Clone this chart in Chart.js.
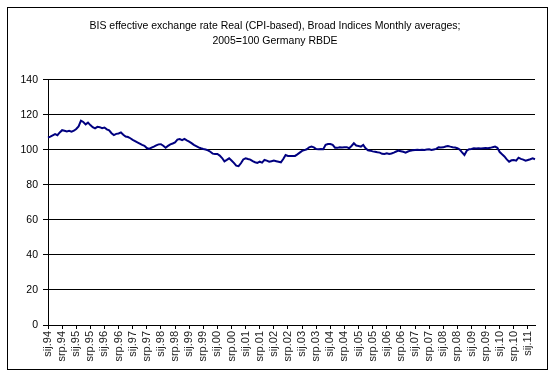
<!DOCTYPE html>
<html>
<head>
<meta charset="utf-8">
<script src="https://cdn.jsdelivr.net/npm/chart.js@4/dist/chart.umd.min.js"></script>
<style>
  html, body { margin: 0; padding: 0; background: #fff; }
  #wrap { width: 552px; height: 376px; position: relative; }
</style>
</head>
<body>
<div id="wrap"><canvas id="c" width="552" height="376"></canvas></div>
<script>
// Month abbreviations (Croatian) and years used for the category labels
const monthNames = ['sij', 'velj', 'ožu', 'tra', 'svi', 'lip', 'srp', 'kol', 'ruj', 'lis', 'stu', 'pro'];
const years = ['94', '95', '96', '97', '98', '99', '00', '01', '02', '03', '04', '05', '06', '07', '08', '09', '10', '11'];
// Months whose label is printed on the axis
const labelledMonths = ['sij', 'srp'];

// Real effective exchange rate, CPI-based, 2005 = 100 (monthly averages)
const rbde = [
  107.0, 107.6, 108.3, 109.0, 108.4, 110.0, 111.3, 111.0, 110.6, 110.9, 110.5, 111.0, // 1994
  112.0, 113.5, 116.7, 116.0, 114.6, 115.6, 114.2, 113.0, 112.3, 113.2, 113.0, 112.4, // 1995
  112.8, 111.8, 111.2, 109.6, 108.5, 109.2, 109.4, 110.0, 108.7, 107.7, 107.4, 106.7, // 1996
  105.8, 105.1, 104.3, 103.6, 102.9, 102.4, 101.1, 100.6, 101.3, 101.9, 102.6, 103.2, // 1997
  103.3, 102.4, 101.3, 102.3, 103.2, 103.7, 104.3, 105.9, 106.2, 105.6, 106.3, 105.5, // 1998
  104.8, 103.9, 102.9, 102.2, 101.5, 101.0, 100.6, 100.3,  99.8,  99.0,  97.9,  97.7, // 1999
   97.7,  96.8,  95.4,  93.5,  94.3,  95.2,  94.0,  92.6,  91.0,  90.7,  92.4,  94.6, // 2000
   95.2,  94.8,  94.5,  93.6,  93.0,  92.6,  93.3,  92.8,  94.3,  93.9,  93.3,  93.6, // 2001
   93.9,  93.6,  93.3,  92.9,  94.8,  97.1,  96.6,  96.5,  96.6,  96.6,  97.5,  98.5, // 2002
   99.5,  99.9, 100.4, 101.5, 101.9, 101.5, 100.5, 100.4, 100.6, 100.4, 102.9, 103.4, // 2003
  103.4, 102.9, 101.3, 101.2, 101.5, 101.4, 101.5, 101.6, 101.0, 102.3, 103.8, 102.5, // 2004
  102.3, 101.9, 102.9, 101.0,  99.8,  99.6,  99.2,  99.0,  98.7,  98.5,  97.8,  97.7, // 2005
   98.1,  97.7,  98.0,  98.5,  99.1,  99.6,  99.3,  99.0,  98.5,  99.1,  99.6,  99.8, // 2006
  100.0, 100.1, 100.0, 100.1, 100.0, 100.3, 100.4, 100.0, 100.3, 100.6, 101.5, 101.4, // 2007
  101.5, 102.0, 102.3, 101.9, 101.6, 101.4, 101.0, 100.2,  98.6,  97.1,  99.6, 100.4, // 2008
  100.6, 101.0, 100.8, 101.0, 100.9, 101.0, 101.1, 101.0, 101.2, 101.6, 101.9, 101.2, // 2009
   98.8,  97.5,  96.3,  94.6,  93.3,  94.1,  94.2,  93.9,  95.6,  94.9,  94.5,  93.9, // 2010
   94.3,  94.7,  95.2,  94.7                                                          // 2011
];

// y-axis range and step
const yMin = 0, yMax = 140, yStep = 20;

const titleLines = [
  'BIS effective exchange rate Real (CPI-based), Broad Indices Monthly averages;',
  '2005=100 Germany RBDE'
];

// One category per month of the series
const categories = [];
years.forEach(y => monthNames.forEach(m => {
  if (categories.length < rbde.length) categories.push(m + '.' + y);
}));

const FONT = "'Liberation Sans', Arial, sans-serif";

// Thin frame round the whole chart
const framePlugin = {
  id: 'frame',
  afterDraw(chart) {
    const ctx = chart.ctx;
    ctx.save();
    ctx.strokeStyle = '#000';
    ctx.lineWidth = 1;
    ctx.strokeRect(7.5, 7.5, 540, 362);
    ctx.restore();
  }
};

new Chart(document.getElementById('c'), {
  type: 'line',
  data: {
    labels: categories,
    datasets: [{
      label: 'RBDE',
      data: rbde,
      borderColor: '#000080',
      borderWidth: 2,
      pointRadius: 0,
      pointHoverRadius: 0,
      tension: 0,
      fill: false
    }]
  },
  options: {
    responsive: false,
    animation: false,
    devicePixelRatio: 1,
    layout: { padding: { left: 15, right: 17, top: 0, bottom: 0 } },
    plugins: {
      legend: { display: false },
      tooltip: { enabled: false },
      title: {
        display: true,
        text: titleLines,
        color: '#000',
        font: { family: FONT, size: 10.5, weight: 'normal', lineHeight: 1.45 },
        padding: { top: 18, bottom: 31.5 }
      }
    },
    scales: {
      x: {
        type: 'category',
        offset: false,
        border: { color: '#000', width: 1 },
        grid: {
          drawOnChartArea: false,
          drawTicks: true,
          tickLength: 4,
          color: ctx => (ctx.index % 6 === 0 ? '#000' : 'rgba(0,0,0,0)')
        },
        ticks: {
          autoSkip: false,
          maxRotation: 90,
          minRotation: 90,
          padding: 2,
          color: '#222',
          font: { family: FONT, size: 11 },
          callback: function (value, index) {
            const lab = categories[index];
            return labelledMonths.includes(lab.split('.')[0]) ? lab : '';
          }
        },
        afterFit: s => { s.height = 51; }
      },
      y: {
        min: yMin,
        max: yMax,
        border: { color: '#000', width: 1 },
        grid: { color: '#000', lineWidth: 1, tickLength: 5 },
        ticks: {
          stepSize: yStep,
          padding: 5,
          color: '#000',
          font: { family: FONT, size: 10.5 }
        },
        afterFit: s => { s.width = 33; }
      }
    }
  },
  plugins: [framePlugin]
});
</script>
</body>
</html>
